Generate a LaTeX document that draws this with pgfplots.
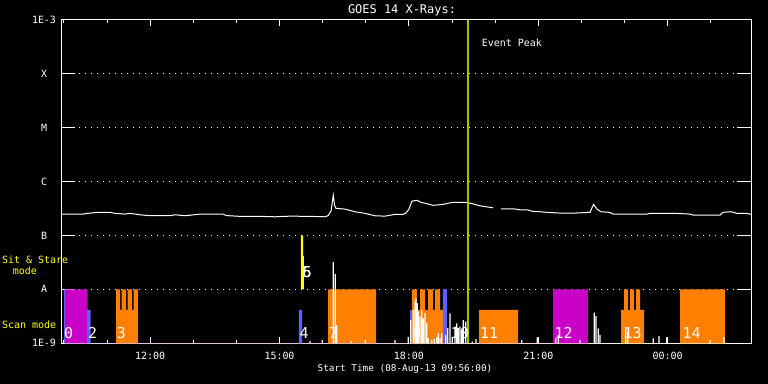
\documentclass[border=0pt]{standalone}
\usepackage{fontspec}
\setmainfont{DejaVu Sans Mono}
\usepackage{pgfplots}
\usepackage{pgfplotstable}
\pgfplotsset{compat=1.18}
\definecolor{mag}{RGB}{200,0,200}
\definecolor{org}{RGB}{255,128,0}
\definecolor{blu}{RGB}{96,96,255}
\definecolor{yel}{RGB}{255,255,0}
\definecolor{grn}{RGB}{153,204,0}

\pgfplotstableread{
h v
9.933 2.48e-7
10.443 2.48e-7
10.559 2.56e-7
10.791 2.67e-7
11.070 2.67e-7
11.186 2.56e-7
11.417 2.48e-7
11.533 2.56e-7
11.765 2.41e-7
11.997 2.31e-7
12.461 2.31e-7
12.577 2.41e-7
12.809 2.31e-7
13.157 2.48e-7
13.690 2.48e-7
13.760 2.33e-7
14.084 2.25e-7
14.548 2.25e-7
14.896 2.21e-7
15.244 2.27e-7
15.707 2.25e-7
16.055 2.21e-7
16.125 2.31e-7
16.194 2.82e-7
16.247 5.57e-7
16.275 3.64e-7
16.310 3.16e-7
16.519 3.07e-7
16.751 2.74e-7
16.983 2.56e-7
17.214 2.31e-7
17.446 2.27e-7
17.678 2.45e-7
17.864 2.45e-7
17.933 2.59e-7
18.003 3.07e-7
18.072 4.32e-7
18.188 4.45e-7
18.281 4.08e-7
18.397 3.91e-7
18.559 3.60e-7
18.791 3.75e-7
18.999 4.08e-7
19.348 4.08e-7
19.417 3.96e-7
19.649 3.53e-7
19.951 3.24e-7
20.040 nan
20.136 3.11e-7
20.415 3.11e-7
20.577 2.98e-7
20.739 2.98e-7
20.878 2.78e-7
21.041 2.74e-7
21.203 2.67e-7
21.505 2.59e-7
21.852 2.59e-7
22.200 2.67e-7
22.281 3.75e-7
22.362 3.07e-7
22.455 2.74e-7
22.664 2.67e-7
22.733 2.48e-7
23.522 2.48e-7
23.591 2.56e-7
24.171 2.56e-7
24.519 2.48e-7
24.589 2.38e-7
25.215 2.38e-7
25.284 2.67e-7
25.470 2.74e-7
25.609 2.56e-7
25.841 2.56e-7
25.933 2.45e-7
}\curve

\pgfplotstableread{
h v
15.707 1.10e-9
15.992 1.15e-9
16.247 3.20e-8
16.294 1.92e-8
16.326 2.18e-9
16.658 1.10e-9
16.990 1.15e-9
17.678 1.15e-9
17.987 1.32e-9
18.042 2.70e-9
18.103 4.14e-9
18.142 5.89e-9
18.165 6.90e-9
18.196 5.57e-9
18.219 3.85e-9
18.258 3.11e-9
18.298 4.14e-9
18.335 2.90e-9
18.374 3.64e-9
18.413 2.38e-9
18.450 1.25e-9
18.529 1.15e-9
18.590 1.19e-9
18.645 1.29e-9
18.683 1.55e-9
18.722 1.25e-9
18.761 1.55e-9
18.854 1.42e-9
18.901 1.92e-9
18.954 3.59e-9
19.007 1.32e-9
19.070 2.03e-9
19.109 2.35e-9
19.146 1.92e-9
19.186 2.03e-9
19.225 1.76e-9
19.262 2.70e-9
19.318 2.51e-9
19.378 1.15e-9
19.471 1.07e-9
19.557 1.19e-9
20.616 1.15e-9
20.978 1.29e-9
21.405 1.24e-9
21.465 1.42e-9
21.968 1.15e-9
22.300 3.69e-9
22.339 3.20e-9
22.392 1.90e-9
22.432 1.42e-9
23.028 1.98e-9
23.074 1.64e-9
23.668 1.24e-9
23.800 1.36e-9
23.979 1.29e-9
24.983 1.15e-9
25.307 1.29e-9
}\noise

\newcommand{\bignum}{\fontsize{15}{16}\selectfont}

\begin{document}
\begin{tikzpicture}
\fill[black] (0,0) rectangle (768bp,384bp);
\useasboundingbox (0,0) rectangle (768bp,384bp);
\begin{axis}[
  at={(61bp,40.7bp)}, anchor=south west,
  scale only axis, width=690bp, height=323.8bp,
  xmin=9.9333, xmax=25.9333,
  ymode=log, ymin=1e-9, ymax=1e-3,
  ytick={1e-9,1e-8,1e-7,1e-6,1e-5,1e-4,1e-3},
  yticklabels={1E-9,A,B,C,M,X,1E-3},
  yminorticks=false,
  xtick={12,15,18,21,24},
  xticklabels={12:00,15:00,18:00,21:00,00:00},
  minor xtick={10,11,13,14,16,17,19,20,22,23,25},
  tick align=inside,
  xtick pos=both, ytick pos=both,
  axis line style={white, line width=1bp},
  every tick/.style={white, line width=1bp},
  xtick style={/pgfplots/major tick length=6bp, /pgfplots/minor tick length=3bp},
  ytick style={/pgfplots/major tick length=14bp},
  ymajorgrids,
  grid style={white, line width=1bp, dash pattern=on 1bp off 5bp},
  tick label style={text=white, font=\normalsize},
  yticklabel style={anchor=center, xshift=-17bp},
  xticklabel style={yshift=-5bp},
  /pgf/number format/assume math mode=true,
  unbounded coords=jump,
  log origin=infty,
]
% magenta bars
\addplot[fill=mag, draw=none] coordinates {
 (10.042,1e-9)(10.042,1e-8)(10.552,1e-8)(10.552,1e-9)
 (21.342,1e-9)(21.342,1e-8)(22.154,1e-8)(22.154,1e-9)};
% orange bars
\addplot[fill=org, draw=none] coordinates {
 (11.209,1e-9)(11.209,1e-8)(11.302,1e-8)(11.302,4.15e-9)(11.341,4.15e-9)(11.341,1e-8)(11.441,1e-8)(11.441,4.15e-9)(11.480,4.15e-9)(11.480,1e-8)(11.580,1e-8)(11.580,4.15e-9)(11.619,4.15e-9)(11.619,1e-8)(11.719,1e-8)(11.719,1e-9)
 (16.125,1e-9)(16.125,1e-8)(17.238,1e-8)(17.238,1e-9)
 (18.072,1e-9)(18.072,1e-8)(18.188,1e-8)(18.188,4.15e-9)(18.258,4.15e-9)(18.258,1e-8)(18.374,1e-8)(18.374,4.15e-9)(18.444,4.15e-9)(18.444,1e-8)(18.560,1e-8)(18.560,4.15e-9)(18.606,4.15e-9)(18.606,1e-8)(18.722,1e-8)(18.722,4.15e-9)(18.791,4.15e-9)(18.791,1e-9)
 (19.626,1e-9)(19.626,4.15e-9)(20.531,4.15e-9)(20.531,1e-9)
 (22.919,1e-9)(22.919,4.15e-9)(22.989,4.15e-9)(22.989,1e-8)(23.082,1e-8)(23.082,4.15e-9)(23.128,4.15e-9)(23.128,1e-8)(23.221,1e-8)(23.221,4.15e-9)(23.267,4.15e-9)(23.267,1e-8)(23.360,1e-8)(23.360,4.15e-9)(23.453,4.15e-9)(23.453,1e-9)
 (24.287,1e-9)(24.287,1e-8)(25.331,1e-8)(25.331,1e-9)};
% blue bars
\addplot[fill=blu, draw=none] coordinates {
 (10.003,1e-9)(10.003,1e-8)(10.042,1e-8)(10.042,1e-9)
 (10.536,1e-9)(10.536,4.15e-9)(10.622,4.15e-9)(10.622,1e-9)
 (15.452,1e-9)(15.452,4.15e-9)(15.522,4.15e-9)(15.522,1e-9)
 (18.026,1e-9)(18.026,4.15e-9)(18.072,4.15e-9)(18.072,1e-9)
 (18.791,1e-9)(18.791,1e-8)(18.884,1e-8)(18.884,1e-9)};
% yellow bar
\addplot[fill=yel, draw=none] coordinates {
 (15.498,1e-8)(15.498,1e-7)(15.545,1e-7)(15.545,4.14e-8)(15.568,4.14e-8)(15.568,1e-8)};
% light curves
\addplot[ybar, bar width=1.2bp, fill=white, draw=none, bar shift=0pt] table[x=h, y=v] {\noise};
\addplot[white, line width=1bp] table[x=h, y=v] {\curve};
% event peak
\addplot[grn, line width=2.4bp] coordinates {(19.364,1e-9) (19.364,1e-3)};
\node[white, anchor=west] at (axis cs:19.61,3.64e-4) {Event Peak};
% bar labels
\node[white, font=\bignum] at (axis cs:10.112,1.55e-9) {0};
\node[white, font=\bignum] at (axis cs:10.664,1.55e-9) {2};
\node[white, font=\bignum] at (axis cs:11.332,1.55e-9) {3};
\node[white, font=\bignum] at (axis cs:15.568,1.55e-9) {4};
\node[white, font=\bignum] at (axis cs:15.638,2.09e-8) {5};
\node[white, font=\bignum] at (axis cs:15.638,2.09e-8) {6};
\node[white, font=\bignum] at (axis cs:16.252,1.55e-9) {7};
\node[white, font=\bignum] at (axis cs:18.182,1.55e-9) {8};
\node[white, font=\bignum] at (axis cs:18.182,1.55e-9) {9};
\node[white, font=\bignum] at (axis cs:19.185,1.55e-9) {10};
\node[white, font=\bignum] at (axis cs:19.858,1.55e-9) {11};
\node[white, font=\bignum] at (axis cs:21.586,1.55e-9) {12};
\node[white, font=\bignum] at (axis cs:23.186,1.55e-9) {13};
\node[white, font=\bignum] at (axis cs:24.558,1.55e-9) {14};
\end{axis}
\node[white, anchor=base, font=\fontsize{12}{14}\selectfont] at (402bp,370.7bp) {GOES 14 X-Rays:};
\node[white, anchor=base, font=\fontsize{9.4}{11}\selectfont] at (405bp,13bp) {Start Time (08-Aug-13 09:56:00)};
\node[yel, anchor=base west, inner sep=0pt] at (2bp,120.7bp) {Sit \& Stare};
\node[yel, anchor=base west, inner sep=0pt] at (12.7bp,109bp) {mode};
\node[yel, anchor=base west, inner sep=0pt] at (2bp,55.7bp) {Scan mode};
\end{tikzpicture}
\end{document}
